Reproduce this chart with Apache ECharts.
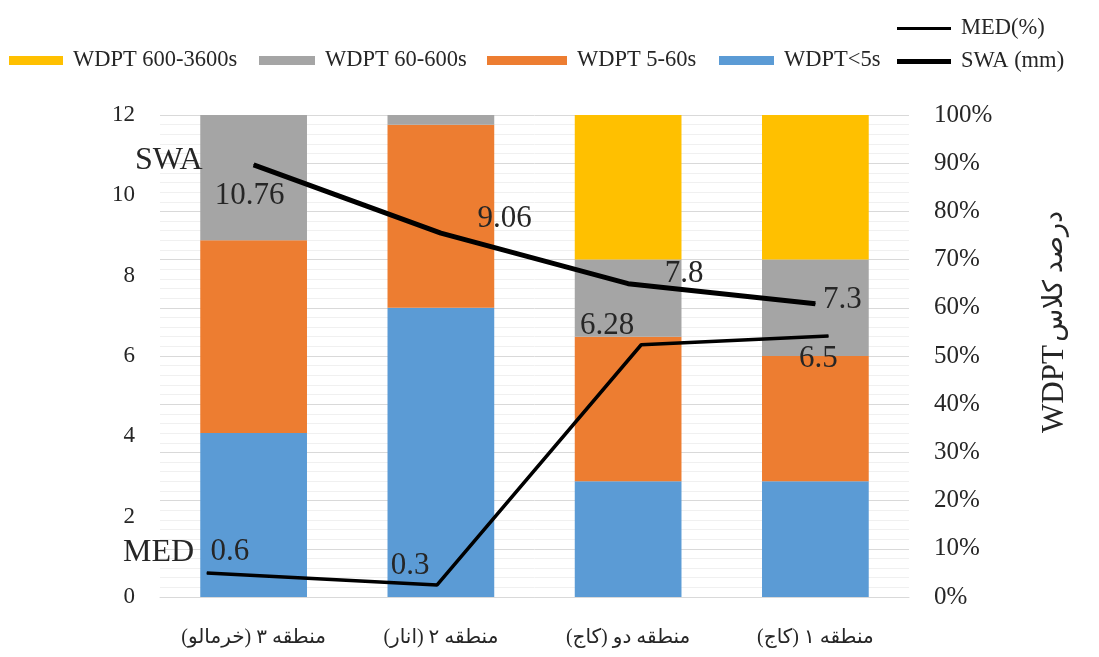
<!DOCTYPE html>
<html><head><meta charset="utf-8">
<script src="https://cdn.jsdelivr.net/npm/echarts@6/dist/echarts.min.js"></script>
<style>html,body{margin:0;padding:0;background:#fff}#c{width:1099px;height:657px}</style>
</head><body><div id="c"></div>
<script>
const categories = ['منطقه ۳ (خرمالو)', 'منطقه ۲ (انار)', 'منطقه دو (کاج)', 'منطقه ۱ (کاج)'];
// stacked class percentages (right axis)
const wdptLt5 = [34, 60, 24, 24];
const wdpt5to60 = [40, 38, 30, 26];
const wdpt60to600 = [26, 2, 16, 20];
const wdpt600to3600 = [0, 0, 30, 30];
// line values (left axis)
const swa = [10.76, 9.06, 7.8, 7.3];
const med = [0.6, 0.3, 6.28, 6.5];
// MED points as placed in the source chart, in category units (0..4)
const medX = [0.25, 1.48, 2.57, 3.57];
const leftTicks = [0, 2, 4, 6, 8, 10, 12];
const rightTicks = [0, 10, 20, 30, 40, 50, 60, 70, 80, 90, 100];

const serif = "'Liberation Serif', 'DejaVu Serif', serif";
const fa = "'Liberation Serif', 'DejaVu Sans', sans-serif";
const txt = '#262626';

const swaLabelStyle = [
  {position: 'bottom', offset: [-4, 10]},
  {position: 'right', offset: [31, -14]},
  {position: 'right', offset: [31, -10]},
  {position: 'right', offset: [2, -4]}
];
const medLabelStyle = [
  {position: 'top', offset: [23, 0]},
  {position: 'top', offset: [-27, 2]},
  {position: 'top', offset: [-34, 2]},
  {position: 'bottom', offset: [-10, 2]}
];

const chart = echarts.init(document.getElementById('c'));
const barBase = {type: 'bar', stack: 'w', xAxisIndex: 0, yAxisIndex: 1, barCategoryGap: '43%', emphasis: {disabled: true}};
const labelFont = {fontFamily: serif, fontSize: 31, color: txt, show: true};
const legendText = {fontFamily: serif, fontSize: 22.5, color: txt, padding: [0, 0, 0, 5]};
const barLegend = (name, left, w) => ({data: [name], left: left, top: 49, padding: 0, itemWidth: w, itemHeight: 9,
  icon: 'rect', textStyle: legendText});

chart.setOption({
  animation: false,
  grid: {left: 160, right: 190, top: 115, bottom: 60},
  legend: [
    barLegend('WDPT 600-3600s', 9, 54),
    barLegend('WDPT 60-600s', 259, 56),
    barLegend('WDPT 5-60s', 487, 80),
    barLegend('WDPT<5s', 719, 55),
    {
      data: ['MED(%)'], left: 892, top: 12, itemWidth: 54, itemHeight: 3, icon: 'rect',
      textStyle: legendText
    },
    {
      data: ['SWA (mm)'], left: 892, top: 45, itemWidth: 54, itemHeight: 5, icon: 'rect',
      textStyle: legendText
    }
  ],
  xAxis: [
    {
      type: 'category', data: categories,
      axisLine: {lineStyle: {color: '#d9d9d9'}}, axisTick: {show: false},
      axisLabel: {fontFamily: fa, fontSize: 20, color: txt, margin: 31, interval: 0}
    },
    {type: 'value', min: 0, max: 4, show: false}
  ],
  yAxis: [
    {
      type: 'value', min: 0, max: 12, interval: 2, position: 'left',
      axisLine: {show: false}, axisTick: {show: false}, splitLine: {show: false},
      axisLabel: {fontFamily: serif, fontSize: 23, color: txt, margin: 25,
        formatter: v => leftTicks.includes(v) ? String(v) : ''}
    },
    {
      type: 'value', min: 0, max: 100, interval: 10, position: 'right',
      axisLine: {show: false}, axisTick: {show: false},
      splitLine: {show: true, lineStyle: {color: '#d9d9d9', width: 1}},
      minorTick: {show: false, splitNumber: 5},
      minorSplitLine: {show: true, lineStyle: {color: '#f0f0f0', width: 1}},
      axisLabel: {fontFamily: serif, fontSize: 25, color: txt, margin: 25,
        formatter: v => rightTicks.includes(v) ? v + '%' : ''}
    }
  ],
  graphic: [
    {type: 'text', left: 135, top: 145, z: 100, style: {text: 'SWA', font: "32px " + serif, fill: txt}},
    {type: 'text', left: 123, top: 537, z: 100, style: {text: 'MED', font: "32px " + serif, fill: txt}},
    {type: 'text', x: 1055, y: 322, rotation: Math.PI / 2, z: 100,
      style: {text: '{a|WDPT} {b|درصد کلاس}', align: 'center', verticalAlign: 'middle', fill: txt,
        rich: {a: {fontFamily: serif, fontSize: 31, fill: txt}, b: {fontFamily: fa, fontSize: 27, fill: txt}}}}
  ],
  series: [
    Object.assign({}, barBase, {name: 'WDPT<5s', data: wdptLt5, itemStyle: {color: '#5B9BD5'}}),
    Object.assign({}, barBase, {name: 'WDPT 5-60s', data: wdpt5to60, itemStyle: {color: '#ED7D31'}}),
    Object.assign({}, barBase, {name: 'WDPT 60-600s', data: wdpt60to600, itemStyle: {color: '#A5A5A5'}}),
    Object.assign({}, barBase, {name: 'WDPT 600-3600s', data: wdpt600to3600, itemStyle: {color: '#FFC000'}}),
    {
      name: 'SWA (mm)', type: 'line', xAxisIndex: 0, yAxisIndex: 0, symbol: 'circle', symbolSize: 1,
      showSymbol: true, z: 5, emphasis: {disabled: true},
      lineStyle: {color: '#000', width: 5}, itemStyle: {color: '#000'},
      data: swa.map((v, i) => ({value: v, label: Object.assign({}, labelFont, swaLabelStyle[i])}))
    },
    {
      name: 'MED(%)', type: 'line', xAxisIndex: 1, yAxisIndex: 0, symbol: 'circle', symbolSize: 1,
      showSymbol: true, z: 5, emphasis: {disabled: true},
      lineStyle: {color: '#000', width: 3.5}, itemStyle: {color: '#000'},
      data: med.map((v, i) => ({value: [medX[i], v], label: Object.assign({}, labelFont, medLabelStyle[i],
        {formatter: p => String(p.value[1])})}))
    }
  ]
});
</script></body></html>
